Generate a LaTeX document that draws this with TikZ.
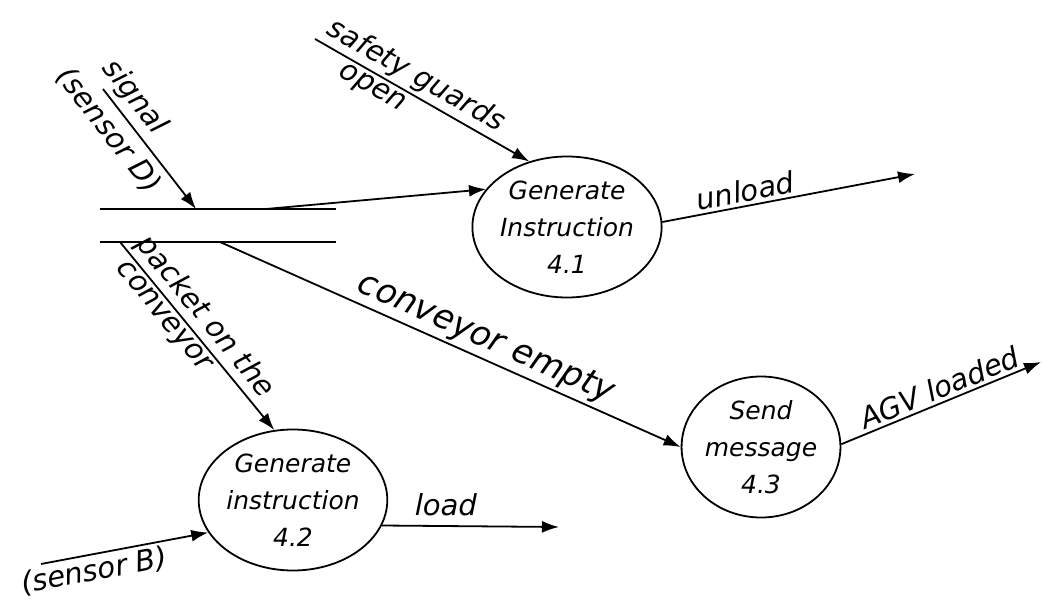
\documentclass[tikz,border=0pt]{standalone}
\usepackage{fontspec}
\setmainfont{DejaVu Sans}
\usetikzlibrary{arrows.meta,positioning,shapes.geometric}

\begin{document}
\begin{tikzpicture}[x=1pt, y=-1pt,
  proc/.style={draw, ellipse, line width=1.8pt, minimum width=155pt, minimum height=141pt, inner sep=0pt, align=center,
    font=\fontsize{25}{37}\selectfont\itshape},
  lbl/.style={font=\fontsize{29}{34}\selectfont\itshape, sloped, inner sep=3pt},
  flow/.style={->, line width=1.8pt},
  >={Latex[length=17pt,width=12pt]}
]
  \useasboundingbox (0,0) rectangle (1043,612);

  % data store
  \node[minimum width=236pt, minimum height=33pt, inner sep=0pt] (store) at (218,225.5) {};
  \draw[line width=2.4pt] (store.north west) -- (store.north east);
  \draw[line width=2.4pt] (store.south west) -- (store.south east);

  % processes
  \node[proc] (p41) at (567,227) {Generate\\Instruction\\4.1};
  \node[proc] (p42) at (293,500) {Generate\\instruction\\4.2};
  \node[proc] (p43) at (761,447) {Send\\message\\4.3};

  % free ends
  \coordinate (sigD) at (103,89);
  \coordinate (sigIn) at (196,209);
  \coordinate (guard) at (315,39);
  \coordinate (outTop) at (266,209);
  \coordinate (outEmpty) at (220,242);
  \coordinate (outPacket) at (120,242);
  \coordinate (sensB) at (41,564);
  \coordinate (unload) at (915,174);
  \coordinate (agv) at (1041,362);
  \coordinate (load) at (559,527);

  \draw[flow] (sigD) -- (sigIn)
    node[lbl, pos=0.17, above=2pt] {signal}
    node[lbl, pos=0.24, below=4pt] {(sensor D)};
  \draw[flow] (guard) -- (p41.120)
    node[lbl, pos=0.43, above] {safety guards}
    node[lbl, pos=0.3, below] {open};
  \draw[flow] (outTop) -- (p41.155);
  \draw[flow] (p41.3) -- (unload) node[lbl, pos=0.34, above] {unload};
  \draw[flow] (outPacket) -- (p42.105)
    node[lbl, pos=0.46, above] {packet on the}
    node[lbl, pos=0.35, below] {conveyor};
  \draw[flow] (outEmpty) -- (p43.west) node[lbl, pos=0.56, above, font=\fontsize{34}{36}\selectfont\itshape] {conveyor empty};
  \draw[flow] (p43.2) -- (agv) node[lbl, pos=0.52, above] {AGV loaded};
  \draw[flow] (p42.-16) -- (load) node[lbl, pos=0.36, above=6pt] {load};
  \draw[flow] (sensB) -- (p42.-159) node[lbl, pos=0.3, below] {(sensor B)};
\end{tikzpicture}
\end{document}
